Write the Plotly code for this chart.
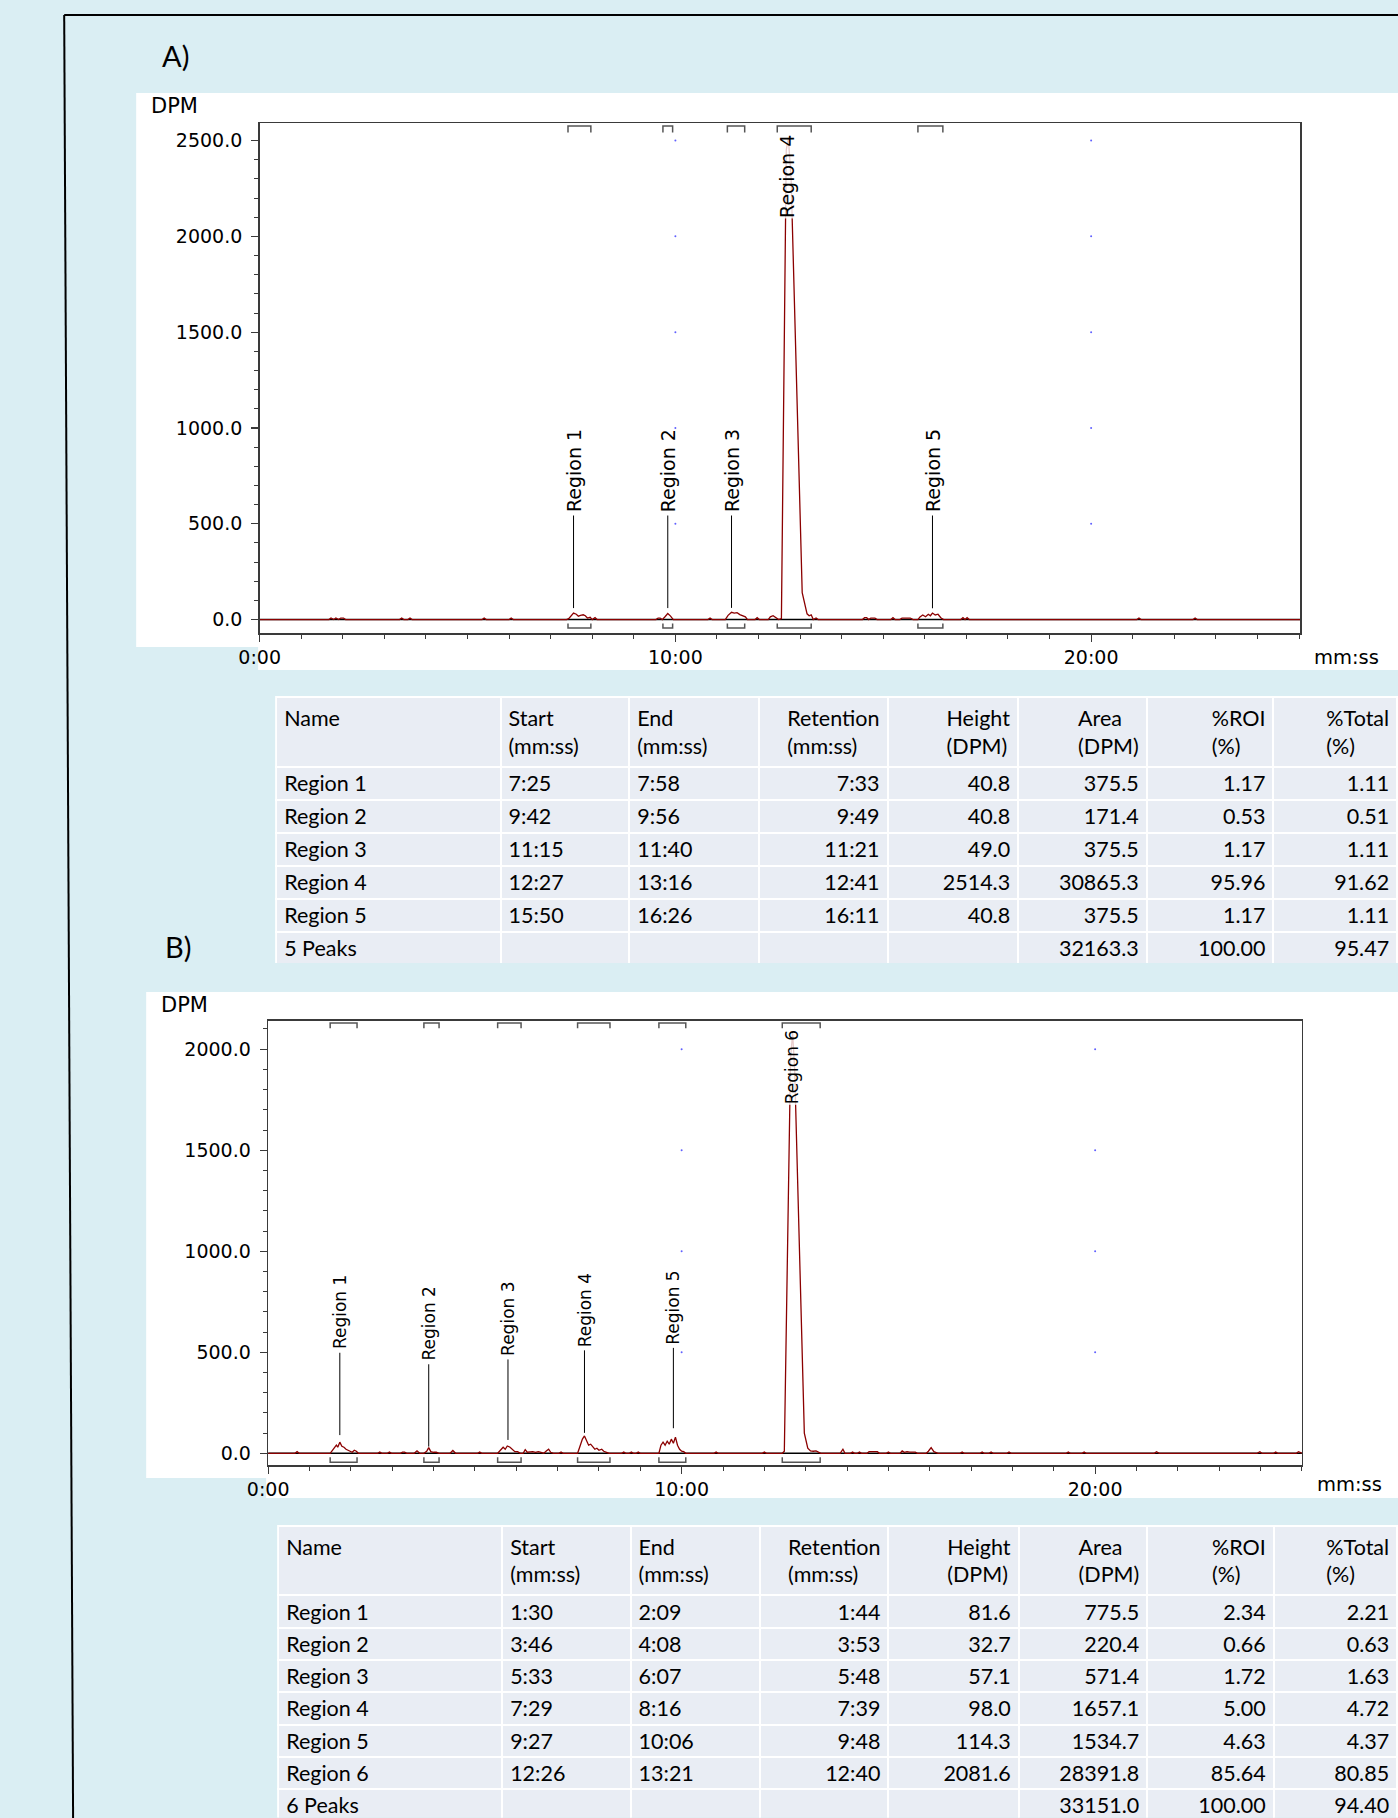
import plotly.graph_objects as go

W, H = 1398, 1818

# ---------------- data ----------------
a_time = [0,
          100, 103, 107, 110, 114, 117, 121, 124,
          202, 205, 208, 214, 217, 220,
          321, 324, 327, 360, 363, 366,
          443, 446, 450, 453, 457, 460, 463, 467, 470, 473, 477, 480, 484, 487,
          572, 575, 578, 581, 585, 589, 593, 597,
          647, 650, 653,
          672, 676, 681, 685, 689, 693, 697, 701, 704,
          715, 718, 721, 734, 737, 741, 745, 749,
          753, 760, 763, 767, 783, 790, 793, 796, 799, 803, 806,
          870, 873, 876, 879, 882, 885, 888, 891,
          911, 914, 917, 924, 927, 931, 935, 939, 943,
          950, 953, 957, 961, 965, 968, 971, 975, 979, 983, 987,
          1012, 1015, 1018, 1021, 1024,
          1266, 1269, 1272, 1347, 1350, 1353,
          1502]
a_dpm = [0,
         0, 8, 0, 8, 0, 8, 8, 0,
         0, 8, 0, 0, 8, 0,
         0, 8, 0, 0, 8, 0,
         0, 5, 20, 34, 28, 18, 22, 25, 20, 8, 12, 0, 10, 0,
         0, 8, 8, 0, 15, 32, 18, 0,
         0, 8, 0,
         0, 22, 38, 34, 36, 26, 22, 14, 0,
         0, 10, 0, 0, 14, 20, 10, 0,
         5, 2450, 2514.3, 2300, 140, 30, 20, 25, 0, 8, 0,
         0, 10, 10, 0, 8, 8, 8, 0,
         0, 10, 0, 0, 8, 8, 8, 8, 0,
         0, 14, 24, 15, 28, 20, 34, 24, 28, 10, 0,
         0, 10, 0, 10, 0,
         0, 8, 0, 0, 8, 0,
         0]

b_time = [0,
          39, 42, 45,
          90, 95, 99, 101, 104, 107, 110, 113, 116, 119, 122, 125, 128, 131,
          159, 162, 165, 173, 176, 179, 192, 195, 198, 201, 212, 216, 220,
          226, 230, 233, 236, 240, 244, 248,
          264, 268, 272, 304, 307, 310,
          333, 337, 341, 344, 347, 351, 355, 358, 362, 366,
          370, 373, 376, 380, 384, 388, 392, 396, 400, 404, 407, 410, 414,
          422, 425, 428,
          449, 452, 456, 459, 462, 465, 468, 471, 474, 477, 480, 484, 487, 491, 495,
          513, 516, 519, 524, 527, 530, 534, 537, 540,
          567, 570, 573, 576, 579, 582, 585, 588, 591, 594, 597, 600, 603, 606,
          647, 650, 653, 717, 720, 723,
          746, 749, 758, 761, 764, 778, 783, 787, 791, 795, 799, 802,
          830, 834, 837, 845, 848, 851, 855, 858, 861,
          869, 872, 876, 880, 884, 887, 897, 900, 903,
          917, 920, 923, 927, 931, 935, 939, 942,
          955, 958, 962, 966, 969, 972,
          1004, 1007, 1010, 1033, 1036, 1039, 1046, 1049, 1052,
          1072, 1075, 1078, 1158, 1161, 1164, 1181, 1184, 1187,
          1286, 1289, 1293, 1435, 1439, 1442, 1459, 1462, 1465,
          1492, 1495, 1500]
b_dpm = [0,
         0, 8, 0,
         0, 25, 40, 30, 55, 35, 30, 20, 15, 10, 5, 15, 10, 0,
         0, 6, 0, 0, 6, 0, 0, 6, 6, 0, 0, 12, 0,
         0, 10, 28, 8, 5, 5, 0,
         0, 14, 0, 0, 6, 0,
         0, 15, 30, 20, 36, 30, 15, 8, 8, 0,
         0, 18, 5, 8, 8, 5, 8, 5, 0, 12, 20, 5, 0,
         0, 6, 0,
         0, 30, 70, 86, 65, 40, 45, 30, 20, 25, 15, 20, 10, 5, 0,
         0, 6, 0, 0, 6, 0, 0, 6, 0,
         0, 40, 55, 40, 60, 45, 70, 50, 80, 40, 20, 10, 8, 0,
         0, 6, 0, 0, 6, 0,
         0, 10, 1950, 2081.6, 1900, 100, 25, 12, 10, 12, 5, 0,
         0, 20, 0, 0, 6, 0, 0, 6, 0,
         0, 8, 8, 6, 8, 0, 0, 6, 0,
         0, 12, 5, 8, 6, 5, 6, 0,
         0, 10, 28, 8, 5, 0,
         0, 6, 0, 0, 6, 0, 0, 6, 0,
         0, 6, 0, 0, 6, 0, 0, 6, 0,
         0, 8, 0, 0, 8, 0, 0, 6, 0,
         0, 8, 0]

a_names = ["Region 1", "Region 2", "Region 3", "Region 4", "Region 5", "5 Peaks"]
a_start = ["7:25", "9:42", "11:15", "12:27", "15:50", ""]
a_end = ["7:58", "9:56", "11:40", "13:16", "16:26", ""]
a_ret = ["7:33", "9:49", "11:21", "12:41", "16:11", ""]
a_height = ["40.8", "40.8", "49.0", "2514.3", "40.8", ""]
a_area = ["375.5", "171.4", "375.5", "30865.3", "375.5", "32163.3"]
a_roi = ["1.17", "0.53", "1.17", "95.96", "1.17", "100.00"]
a_total = ["1.11", "0.51", "1.11", "91.62", "1.11", "95.47"]

b_names = ["Region 1", "Region 2", "Region 3", "Region 4", "Region 5", "Region 6", "6 Peaks"]
b_start = ["1:30", "3:46", "5:33", "7:29", "9:27", "12:26", ""]
b_end = ["2:09", "4:08", "6:07", "8:16", "10:06", "13:21", ""]
b_ret = ["1:44", "3:53", "5:48", "7:39", "9:48", "12:40", ""]
b_height = ["81.6", "32.7", "57.1", "98.0", "114.3", "2081.6", ""]
b_area = ["775.5", "220.4", "571.4", "1657.1", "1534.7", "28391.8", "33151.0"]
b_roi = ["2.34", "0.66", "1.72", "5.00", "4.63", "85.64", "100.00"]
b_total = ["2.21", "0.63", "1.63", "4.72", "4.37", "80.85", "94.40"]

table_header = ["Name<br> ", "Start<br>(mm:ss)", "End<br>(mm:ss)", "Retention<br>(mm:ss)",
                "Height<br>(DPM)", "Area<br>(DPM)", "%ROI<br>(%)", "%Total<br>(%)"]

x_tick_vals = [0, 600, 1200]
x_tick_text = ["0:00", "10:00", "20:00"]
a_y_ticks = [0, 500, 1000, 1500, 2000, 2500]
b_y_ticks = [0, 500, 1000, 1500, 2000]

# ---------------- style / layout constants ----------------
BG = "#DAEEF3"
CELL = "#E9EDF4"
RED = "#8B0000"
FR = "#3a3a3a"
CF = "DejaVu Sans"
TF = "Lato"

# horizontal calibration of the page capture (screen = OX + SX * paper_px)
OX, SX = 19.8, 0.9852


def px(x):
    return ((x - OX) / SX) / W


def py(y):
    return 1 - y / H


def sec(t):
    m, s = t.split(":")
    return int(m) * 60 + int(s)


a_lab_tip = [60, 60, 61, None, 59]
a_lab_mid = [778, 778, 778, 2315, 778]
b_lab_tip = [90, 33, 66, 101, 124, None]
b_lab_mid = [698, 641, 665, 710, 722, 1910]

fig = go.Figure()

fig.add_trace(go.Scatter(x=a_time, y=a_dpm, mode="lines", line=dict(color=RED, width=1.3),
                         xaxis="x", yaxis="y", hoverinfo="skip", showlegend=False))
fig.add_trace(go.Scatter(x=b_time, y=b_dpm, mode="lines", line=dict(color=RED, width=1.3),
                         xaxis="x2", yaxis="y2", hoverinfo="skip", showlegend=False))

for xa, ya, yt in (("x", "y", a_y_ticks), ("x2", "y2", b_y_ticks)):
    gx, gy = [], []
    for xv in x_tick_vals[1:]:
        for yv in yt[1:]:
            gx.append(xv)
            gy.append(yv)
    fig.add_trace(go.Scatter(x=gx, y=gy, mode="markers", marker=dict(color="#6060FF", size=2),
                             xaxis=xa, yaxis=ya, hoverinfo="skip", showlegend=False))

aligns = ["left", "left", "left", "right", "right", "right", "right", "right"]
colw = [225, 129, 130, 129, 131, 129, 127, 124]


def add_table(cols, x0, ytop, ybot, ch):
    fig.add_trace(go.Table(
        domain=dict(x=[px(x0), 1.0], y=[ybot, py(ytop)]),
        columnwidth=colw,
        header=dict(values=table_header, fill_color=CELL, line=dict(color="white", width=2),
                    align=aligns, font=dict(family=TF, size=21.5, color="black"), height=66),
        cells=dict(values=cols, fill_color=CELL, line=dict(color="white", width=2),
                   align=aligns, font=dict(family=TF, size=21.5, color="black"), height=ch),
    ))


add_table([a_names, a_start, a_end, a_ret, a_height, a_area, a_roi, a_total], 275, 697, py(964), 33)
add_table([b_names, b_start, b_end, b_ret, b_height, b_area, b_roi, b_total], 277, 1525.5, 0.0, 32.3)


def xaxis(dom, rng):
    return dict(domain=dom, range=rng, showline=True, mirror=True, linecolor=FR, linewidth=1.5,
                showgrid=False, zeroline=False, ticks="outside", ticklen=7, tickwidth=1.2,
                tickcolor=FR, tickfont=dict(family=CF, size=19, color="black"),
                tickmode="linear", tick0=0, dtick=600,
                labelalias={str(v): t for v, t in zip(x_tick_vals, x_tick_text)},
                minor=dict(ticks="outside", ticklen=4, tickwidth=1, tickcolor=FR, dtick=60,
                           tick0=0, showgrid=False),
                fixedrange=True)


def yaxis(dom, rng, anchor):
    return dict(domain=dom, range=rng, anchor=anchor, showline=True, mirror=True, linecolor=FR,
                linewidth=1.5, showgrid=False, zeroline=False, ticks="outside", ticklen=7,
                tickwidth=1.2, tickcolor=FR, tickfont=dict(family=CF, size=19, color="black"),
                tickmode="linear", tick0=0, dtick=500, tickformat=".1f", ticklabelstandoff=5,
                minor=dict(ticks="outside", ticklen=4, tickwidth=1, tickcolor=FR, dtick=100,
                           tick0=0, showgrid=False),
                fixedrange=True)


shapes = [
    dict(type="rect", xref="paper", yref="paper", x0=px(135), x1=1.0, y0=py(647), y1=py(93),
         fillcolor="white", line=dict(width=0), layer="below"),
    dict(type="rect", xref="paper", yref="paper", x0=px(257), x1=1.0, y0=py(670), y1=py(647),
         fillcolor="white", line=dict(width=0), layer="below"),
    dict(type="rect", xref="paper", yref="paper", x0=px(145), x1=1.0, y0=py(1478), y1=py(992),
         fillcolor="white", line=dict(width=0), layer="below"),
    dict(type="rect", xref="paper", yref="paper", x0=px(265), x1=1.0, y0=py(1498), y1=py(1478),
         fillcolor="white", line=dict(width=0), layer="below"),
    dict(type="path", xref="paper", yref="paper",
         path=f"M {px(63)},{py(15)} L 1.02,{py(15)}", line=dict(color="black", width=2)),
    dict(type="path", xref="paper", yref="paper",
         path=f"M {px(63)},{py(15)} L {px(72)},-0.01", line=dict(color="black", width=2)),
]

annotations = [
    dict(text="A)", x=px(174), y=py(55), xref="paper", yref="paper", showarrow=False,
         xanchor="center", yanchor="middle", font=dict(family=TF, size=29, color="black")),
    dict(text="B)", x=px(177), y=py(946), xref="paper", yref="paper", showarrow=False,
         xanchor="center", yanchor="middle", font=dict(family=TF, size=29, color="black")),
]

panels = [
    dict(xa="x", ya="y", names=a_names[:-1], start=a_start, end=a_end, ret=a_ret,
         tip=a_lab_tip, mid=a_lab_mid, top=(2576, 2542), bot=(-44, -20), fs=19,
         dpm=(148, 106), mm=(1346, 657)),
    dict(xa="x2", ya="y2", names=b_names[:-1], start=b_start, end=b_end, ret=b_ret,
         tip=b_lab_tip, mid=b_lab_mid, top=(2129, 2104), bot=(-45, -20), fs=17,
         dpm=(158, 1005), mm=(1349, 1484)),
]

for p in panels:
    xa, ya = p["xa"], p["ya"]
    shapes.append(dict(type="line", xref=f"{xa} domain", yref=ya, x0=0, x1=1, y0=0, y1=0,
                       line=dict(color="black", width=1.5), layer="below"))
    for i, name in enumerate(p["names"]):
        s0, s1 = sec(p["start"][i]), sec(p["end"][i])
        t1, t2 = p["top"]
        b1, b2 = p["bot"]
        shapes.append(dict(type="path", xref=xa, yref=ya,
                           path=f"M {s0},{t2} L {s0},{t1} L {s1},{t1} L {s1},{t2}",
                           line=dict(color="#555555", width=1.5)))
        shapes.append(dict(type="path", xref=xa, yref=ya,
                           path=f"M {s0},{b2} L {s0},{b1} L {s1},{b1} L {s1},{b2}",
                           line=dict(color="#555555", width=1.5)))
        r = sec(p["ret"][i])
        tip = p["tip"][i]
        if tip is None:
            annotations.append(dict(text=name, x=r, y=p["mid"][i], xref=xa, yref=ya,
                                    showarrow=False, textangle=-90, xanchor="center",
                                    yanchor="middle", bgcolor="rgba(255,255,255,0.8)",
                                    borderpad=0,
                                    font=dict(family=CF, size=p["fs"], color="black")))
        else:
            annotations.append(dict(text=name, x=r, y=tip, xref=xa, yref=ya, ax=r,
                                    ay=p["mid"][i], axref=xa, ayref=ya, showarrow=True,
                                    arrowhead=0, arrowwidth=1, arrowcolor="black",
                                    textangle=-90, standoff=0, startstandoff=2,
                                    font=dict(family=CF, size=p["fs"], color="black")))
    annotations.append(dict(text="DPM", x=px(p["dpm"][0]), y=py(p["dpm"][1]), xref="paper",
                            yref="paper", xanchor="left", yanchor="middle", showarrow=False,
                            font=dict(family=CF, size=21, color="black")))
    annotations.append(dict(text="mm:ss", x=px(p["mm"][0]), y=py(p["mm"][1]), xref="paper",
                            yref="paper", xanchor="center", yanchor="middle", showarrow=False,
                            font=dict(family=CF, size=19.5, color="black")))

fig.update_layout(
    width=W, height=H, margin=dict(l=0, r=0, t=0, b=0), autosize=False,
    paper_bgcolor=BG, plot_bgcolor="white", showlegend=False,
    xaxis=xaxis([px(258.5), px(1299.5)], [0, 1502]),
    yaxis=yaxis([py(633), py(123.3)], [-70, 2590], "x"),
    xaxis2=xaxis([px(267), px(1301)], [0, 1500]),
    yaxis2=yaxis([py(1465), py(1020.7)], [-58, 2141], "x2"),
    shapes=shapes, annotations=annotations,
)
fig.layout.xaxis2.anchor = "y2"
fig.layout.xaxis.anchor = "y"

fig.write_html("out.html", config={"displayModeBar": False, "staticPlot": True},
               post_script="document.body.style.margin='0';document.body.style.overflow='hidden';")
